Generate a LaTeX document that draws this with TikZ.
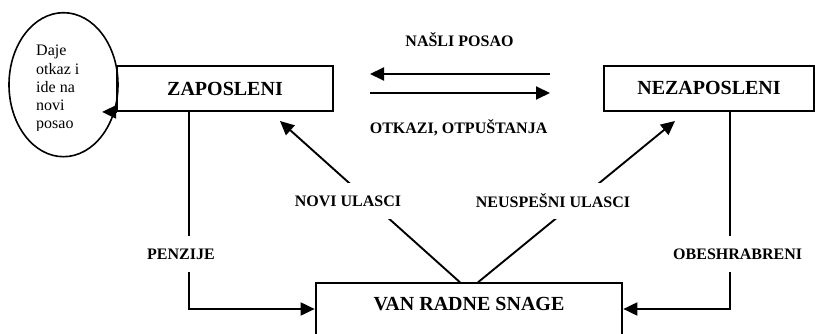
\documentclass[tikz,border=0pt]{standalone}
\usepackage{fontspec}
\setmainfont{Liberation Serif}
\usetikzlibrary{arrows.meta,shapes.geometric,positioning}
\tikzset{
  box/.style={draw, line width=1.9pt, rectangle, inner sep=0pt,
    font=\fontsize{20}{24}\selectfont\bfseries},
  flow/.style={line width=1.9pt, -{Triangle[length=14pt,width=13pt]}},
  link/.style={line width=1.9pt},
  lbl/.style={fill=white, inner xsep=2pt, inner ysep=0pt, minimum height=36pt,
    font=\fontsize{16}{19}\selectfont\bfseries}
}
\begin{document}
\begin{tikzpicture}[x=1pt,y=-1pt]
  \clip (0,0) rectangle (815,334);

  % boxes
  \node[box, minimum width=216pt, minimum height=45pt] (zap) at (225,88.5) {ZAPOSLENI};
  \node[box, minimum width=210pt, minimum height=45pt] (nez) at (709,88.2) {NEZAPOSLENI};
  \node[box, minimum width=306.8pt, minimum height=80pt, anchor=north] (vrs) at (469,282.3) {};
  \node[font=\fontsize{20}{24}\selectfont\bfseries] (vrstext) at (469,304) {VAN RADNE SNAGE};

  % ellipse
  \node[draw, ellipse, line width=1.6pt, minimum width=109pt, minimum height=144pt] (ell) at (63.5,84.7) {};
  \begin{scope}
    \clip (0,0) rectangle (140,131);
    \node[align=left, anchor=north west, inner sep=0pt,
      font=\fontsize{16}{18.3}\selectfont] (elltext) at (36,45)
      {Daje\\otkaz i\\ide na\\novi\\posao};
  \end{scope}
  \draw[flow] (zap.south west) -- ++(-14,0);

  % between employed and unemployed
  \coordinate (topleft) at (370,74);
  \coordinate (topright) at (550,74);
  \coordinate (botleft) at (370,93);
  \coordinate (botright) at (550,93);
  \draw[flow] (topright) -- (topleft);
  \draw[flow] (botleft) -- (botright);
  \node[lbl, minimum height=0pt] (nasli) at (459.5,40) {NAŠLI POSAO};
  \node[lbl, minimum height=0pt] (otkazi) at (458.6,128) {OTKAZI, OTPUŠTANJA};

  % retirements and discouraged
  \draw[flow] (zap.south -| 189,0) |- (vrs.west |- 0,309);
  \draw[flow] (nez.south -| 730,0) |- (vrs.east |- 0,309);
  \node[lbl] (penzije) at (181,254.5) {PENZIJE};
  \node[lbl] (obeshr) at (737.7,254.5) {OBESHRABRENI};

  % entries
  \coordinate (zapin) at (280,121);
  \coordinate (nezin) at (675,121);
  \draw[flow] ([xshift=-9pt]vrs.north) -- (zapin);
  \draw[flow] ([xshift=9pt]vrs.north) -- (nezin);
  \node[lbl] (novi) at (348,201) {NOVI ULASCI};
  \node[lbl] (neusp) at (553,201) {NEUSPEŠNI ULASCI};
\end{tikzpicture}
\end{document}
